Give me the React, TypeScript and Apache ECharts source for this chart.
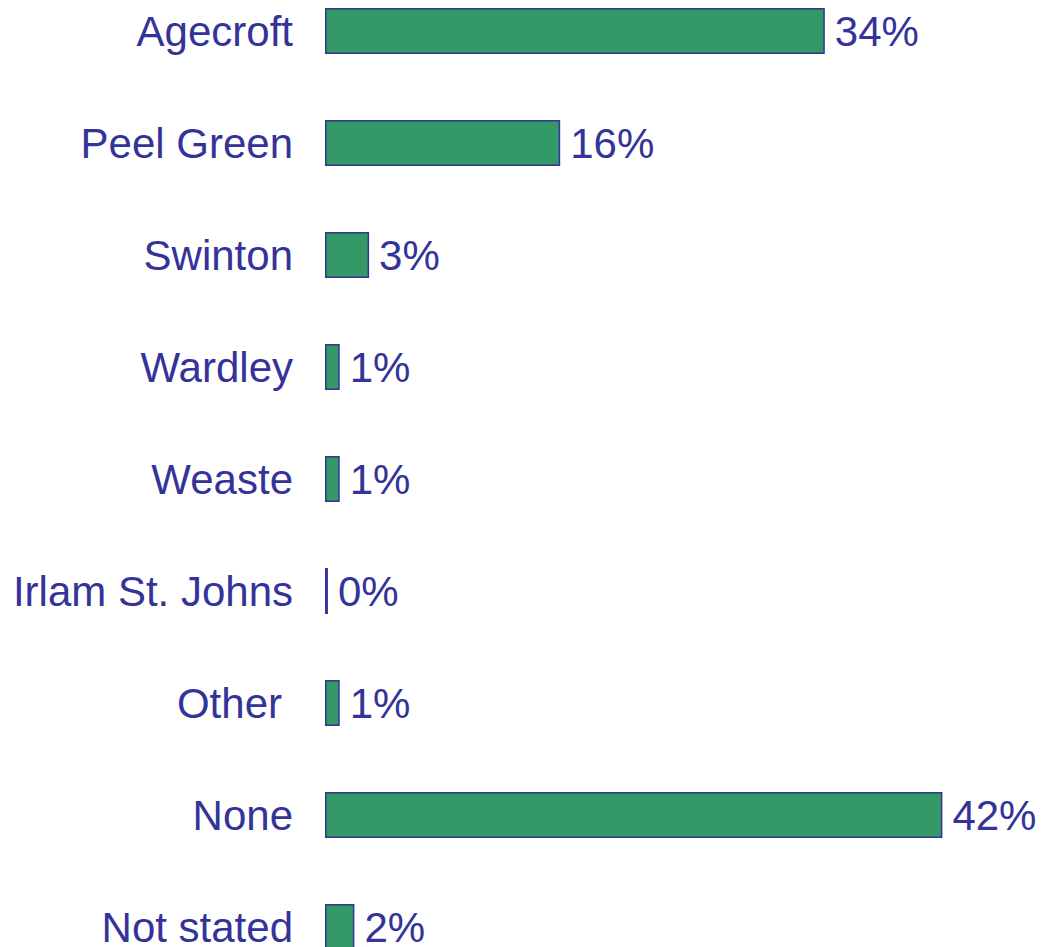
import React, { useEffect, useRef } from "react";
import * as echarts from "echarts";

const categories = [
  "Agecroft",
  "Peel Green",
  "Swinton",
  "Wardley",
  "Weaste",
  "Irlam St. Johns",
  "Other",
  "None",
  "Not stated",
];
const values = [34, 16, 3, 1, 1, 0.2, 1, 42, 2];
const valueLabels = ["34%", "16%", "3%", "1%", "1%", "0%", "1%", "42%", "2%"];

const TEXT = "#333399";
const FONT = "'Liberation Sans', Arial, Helvetica, sans-serif";

export default function App() {
  const ref = useRef<HTMLDivElement>(null);
  useEffect(() => {
    if (!ref.current) return;
    const chart = echarts.init(ref.current, undefined, { renderer: "svg" });
    chart.setOption({
      animation: false,
      backgroundColor: "#ffffff",
      grid: {
        left: 325,
        top: -25,
        width: 735,
        height: 1008,
        containLabel: false,
        outerBoundsMode: "none",
      },
      xAxis: {
        type: "value",
        min: 0,
        max: 50,
        show: false,
      },
      yAxis: {
        type: "category",
        data: categories,
        inverse: true,
        axisLine: { show: false },
        axisTick: { show: false },
        axisLabel: {
          color: TEXT,
          fontFamily: FONT,
          fontSize: 42,
          margin: 32,
          formatter: (v: string) => (v === "Other" ? "{o|" + v + "}" : v),
          rich: {
            o: { color: TEXT, fontFamily: FONT, fontSize: 42, padding: [0, 11, 0, 0] },
          },
        },
      },
      series: [
        {
          type: "bar",
          data: values,
          barWidth: 46,
          itemStyle: { color: "#339966", borderColor: TEXT, borderWidth: 1.5 },
          label: {
            show: true,
            position: "right",
            distance: 10,
            color: TEXT,
            fontFamily: FONT,
            fontSize: 42,
            formatter: (p: any) => valueLabels[p.dataIndex],
          },
        },
      ],
    });
    return () => chart.dispose();
  }, []);
  return (
    <div
      ref={ref}
      style={{ position: "fixed", left: 0, top: 0, width: 1044, height: 947 }}
    />
  );
}
